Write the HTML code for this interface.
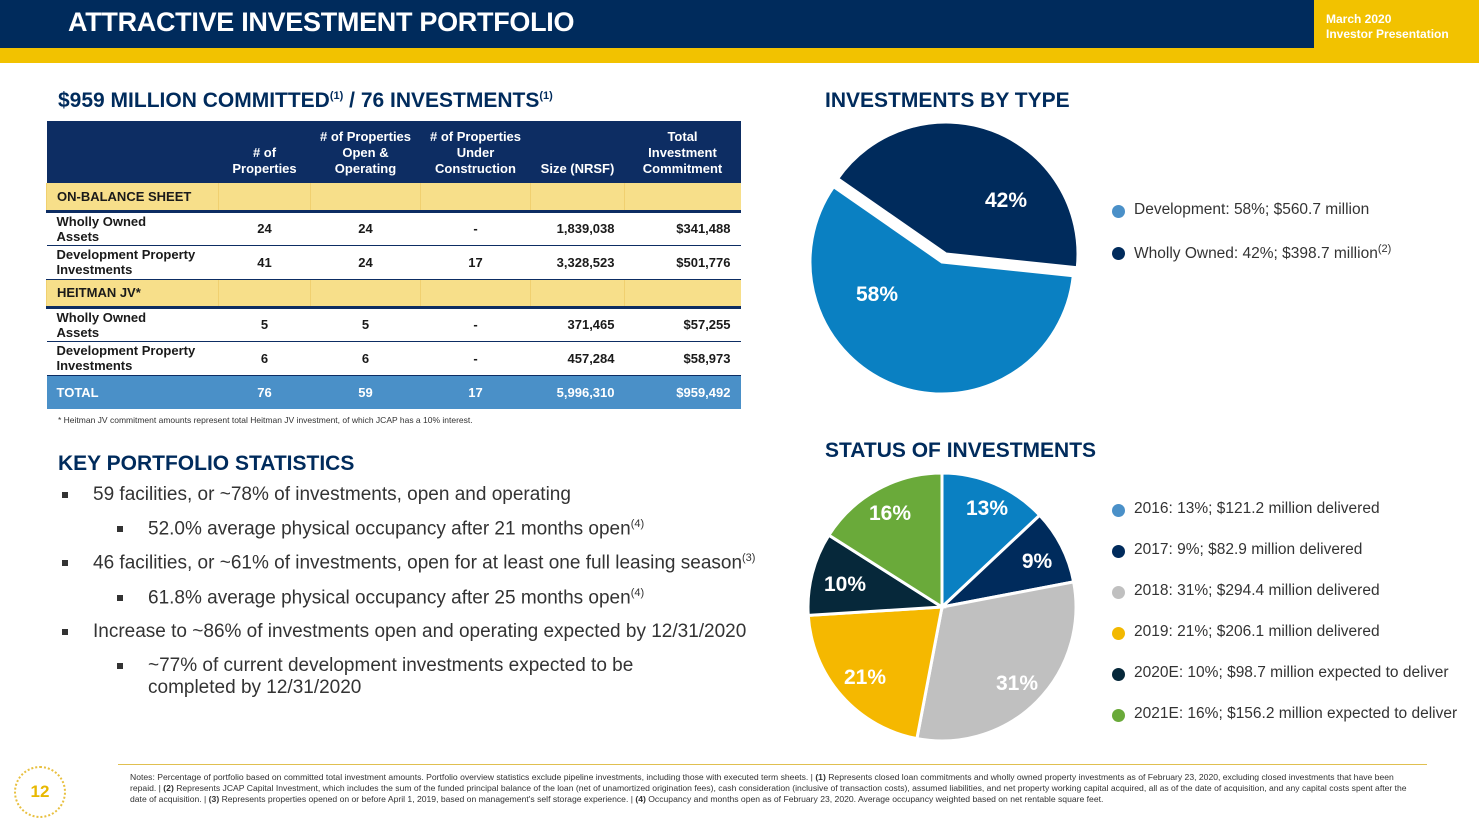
<!DOCTYPE html>
<html><head><meta charset="utf-8"><style>
body{margin:0;width:1479px;height:832px;position:relative;background:#fff;font-family:"Liberation Sans",sans-serif;overflow:hidden}
.a{position:absolute}
.hdr{left:0;top:0;width:1314px;height:48px;background:#002b5c}
.hdr span{position:absolute;left:68px;top:7px;color:#fff;font-weight:bold;font-size:27px;letter-spacing:-0.3px}
.gold{left:0;top:48px;width:1479px;height:15px;background:#f2c200}
.mar{left:1314px;top:0;width:165px;height:48px;background:#f2c200;color:#fff;font-size:12px;font-weight:bold;line-height:15px;padding:12px 0 0 12px;box-sizing:border-box}
h2{position:absolute;margin:0;color:#002b5c;font-size:21px;font-weight:bold}
table{position:absolute;left:46px;top:121px;border-collapse:collapse;font-size:13px;font-weight:bold;color:#1a1a1a;table-layout:fixed}
td{padding:0 10px;box-sizing:border-box}
tr.h td{background:#0d2d63;color:#fff;text-align:center;height:62px;vertical-align:bottom;padding:0 2px 6px;line-height:16px;white-space:nowrap}
tr.s td{background:#f7df8a;height:28px;border-left:1px solid #f0d070;border-bottom:3px solid #0d2d63}
tr.r td{height:34px;line-height:15px;border-bottom:1px solid #0d2d63}
tr.r td.n,tr.t td.n{text-align:center}
tr.r td.v,tr.t td.v{text-align:right}
tr.t td{background:#4a90c8;color:#fff;height:34px}
ul{position:absolute;margin:0;padding:0;list-style:none;color:#333;font-size:19px}
li{position:relative;margin-bottom:12px}
li:before{content:"";position:absolute;width:6px;height:6px;background:#333;left:-31px;top:8px}
sup{font-size:11px}
.leg{position:absolute;font-size:15.5px;color:#333}
.leg i{position:absolute;left:-22px;top:4px;width:13px;height:13px;border-radius:50%}
.notes{left:130px;top:772px;width:1290px;font-size:8.6px;color:#333;line-height:11px}
</style></head><body>
<div class="a hdr"><span>ATTRACTIVE INVESTMENT PORTFOLIO</span></div>
<div class="a mar">March 2020<br>Investor Presentation</div>
<div class="a gold"></div>
<h2 style="left:58px;top:89px">$959 MILLION COMMITTED<sup>(1)</sup> / 76 INVESTMENTS<sup>(1)</sup></h2>
<h2 style="left:825px;top:89px">INVESTMENTS BY TYPE</h2>
<h2 style="left:825px;top:439px">STATUS OF INVESTMENTS</h2>
<h2 style="left:58px;top:452px">KEY PORTFOLIO STATISTICS</h2>
<table>
<colgroup><col style="width:172px"><col style="width:92px"><col style="width:110px"><col style="width:110px"><col style="width:94px"><col style="width:116px"></colgroup>
<tr class="h"><td></td><td># of<br>Properties</td><td># of Properties<br>Open &amp;<br>Operating</td><td># of Properties<br>Under<br>Construction</td><td>Size (NRSF)</td><td>Total<br>Investment<br>Commitment</td></tr>
<tr class="s"><td>ON-BALANCE SHEET</td><td></td><td></td><td></td><td></td><td></td></tr>
<tr class="r"><td>Wholly Owned<br>Assets</td><td class="n">24</td><td class="n">24</td><td class="n">-</td><td class="v">1,839,038</td><td class="v">$341,488</td></tr>
<tr class="r"><td>Development Property<br>Investments</td><td class="n">41</td><td class="n">24</td><td class="n">17</td><td class="v">3,328,523</td><td class="v">$501,776</td></tr>
<tr class="s"><td>HEITMAN JV*</td><td></td><td></td><td></td><td></td><td></td></tr>
<tr class="r"><td>Wholly Owned<br>Assets</td><td class="n">5</td><td class="n">5</td><td class="n">-</td><td class="v">371,465</td><td class="v">$57,255</td></tr>
<tr class="r"><td>Development Property<br>Investments</td><td class="n">6</td><td class="n">6</td><td class="n">-</td><td class="v">457,284</td><td class="v">$58,973</td></tr>
<tr class="t"><td>TOTAL</td><td class="n">76</td><td class="n">59</td><td class="n">17</td><td class="v">5,996,310</td><td class="v">$959,492</td></tr>
</table>
<div class="a" style="left:58px;top:415px;font-size:8.5px;color:#333">* Heitman JV commitment amounts represent total Heitman JV investment, of which JCAP has a 10% interest.</div>
<ul style="left:93px;top:484px">
<li>59 facilities, or ~78% of investments, open and operating</li>
<li style="margin-left:55px">52.0% average physical occupancy after 21 months open<sup>(4)</sup></li>
<li>46 facilities, or ~61% of investments, open for at least one full leasing season<sup>(3)</sup></li>
<li style="margin-left:55px">61.8% average physical occupancy after 25 months open<sup>(4)</sup></li>
<li>Increase to ~86% of investments open and operating expected by 12/31/2020</li>
<li style="margin-left:55px;line-height:22px">~77% of current development investments expected to be<br>completed by 12/31/2020</li>
</ul>
<svg class="a" style="left:0;top:0" width="1479" height="832" id="s"></svg>
<div class="leg" style="left:1134px;top:201px"><i style="background:#4a90c8"></i>Development: 58%; $560.7 million</div>
<div class="leg" style="left:1134px;top:243px"><i style="background:#002b5c"></i>Wholly Owned: 42%; $398.7 million<sup>(2)</sup></div>
<div class="leg" style="left:1134px;top:500px"><i style="background:#4a90c8"></i>2016: 13%; $121.2 million delivered</div>
<div class="leg" style="left:1134px;top:541px"><i style="background:#002b5c"></i>2017: 9%; $82.9 million delivered</div>
<div class="leg" style="left:1134px;top:582px"><i style="background:#c0c0c0"></i>2018: 31%; $294.4 million delivered</div>
<div class="leg" style="left:1134px;top:623px"><i style="background:#f2b800"></i>2019: 21%; $206.1 million delivered</div>
<div class="leg" style="left:1134px;top:664px"><i style="background:#06283a"></i>2020E: 10%; $98.7 million expected to deliver</div>
<div class="leg" style="left:1134px;top:705px"><i style="background:#6aaa3a"></i>2021E: 16%; $156.2 million expected to deliver</div>
<div class="a" style="left:118px;top:764px;width:1309px;height:1px;background:#e0c050"></div>
<div class="a" style="left:14px;top:766px;width:52px;height:52px;border-radius:50%;border:2px dotted #e8c040;box-sizing:border-box;color:#e8b800;font-weight:bold;font-size:17px;text-align:center;line-height:48px">12</div>
<div class="a notes">Notes: Percentage of portfolio based on committed total investment amounts. Portfolio overview statistics exclude pipeline investments, including those with executed term sheets. | <b>(1)</b> Represents closed loan commitments and wholly owned property investments as of February 23, 2020, excluding closed investments that have been repaid. | <b>(2)</b> Represents JCAP Capital Investment, which includes the sum of the funded principal balance of the loan (net of unamortized origination fees), cash consideration (inclusive of transaction costs), assumed liabilities, and net property working capital acquired, all as of the date of acquisition, and any capital costs spent after the date of acquisition. | <b>(3)</b> Represents properties opened on or before April 1, 2019, based on management's self storage experience. | <b>(4)</b> Occupancy and months open as of February 23, 2020. Average occupancy weighted based on net rentable square feet.</div>
<script>
var s=document.getElementById('s'),o='';
function sl(cx,cy,r,a0,a1,c,lab,lx,ly){var R=Math.PI/180,x0=cx+r*Math.cos(a0*R),y0=cy+r*Math.sin(a0*R),x1=cx+r*Math.cos(a1*R),y1=cy+r*Math.sin(a1*R);
o+='<path d="M'+cx+','+cy+'L'+x0+','+y0+'A'+r+','+r+' 0 '+(a1-a0>180?1:0)+' 1 '+x1+','+y1+'Z" fill="'+c+'" stroke="#fff" stroke-width="3"/>';
o+='<text x="'+lx+'" y="'+(ly+7)+'" text-anchor="middle" font-family="Liberation Sans" font-weight="bold" font-size="21" fill="#fff">'+lab+'</text>';}
sl(942,262,132,6,214.8,'#0a80c2','58%',877,294);
sl(946,254,132,214.8,366,'#002b5c','42%',1006,200);
var d=[[13,'#0a80c2',987,508],[9,'#002b5c',1037,561],[31,'#c0c0c0',1017,683],[21,'#f5b800',865,677],[10,'#06283a',845,584],[16,'#6aaa3a',890,513]],a=-90;
d.forEach(function(e){var b=a+e[0]*3.6;sl(942,607,134,a,b,e[1],e[0]+'%',e[2],e[3]);a=b;});
s.innerHTML=o;
</script>
</body></html>
